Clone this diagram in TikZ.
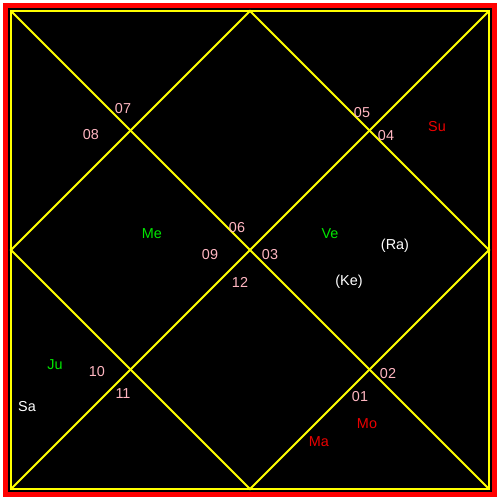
\documentclass[tikz,border=0pt]{standalone}
\usepackage{fontspec}
\setmainfont{Liberation Sans}
\usetikzlibrary{positioning}
\definecolor{framecol}{RGB}{255,0,0}
\definecolor{chartcol}{RGB}{255,255,0}
\definecolor{housecol}{RGB}{255,182,193}
\definecolor{greencol}{RGB}{0,230,0}
\definecolor{redcol}{RGB}{235,0,0}
\tikzset{
  chart/.style={draw=chartcol, line width=1.1pt},
  hnum/.style={text=housecol, font=\fontsize{8.2pt}{9.5pt}\selectfont, inner sep=0pt},
  plG/.style={text=greencol, font=\fontsize{8.2pt}{9.5pt}\selectfont, inner sep=0pt},
  plR/.style={plG, text=redcol},
  plW/.style={plG, text=white},
}
\begin{document}
\begin{tikzpicture}[x=0.02cm, y=-0.02cm]
  \useasboundingbox (0,0) rectangle (500,500);
  % Frame
  \fill[white] (0,0) rectangle (500,500);
  \fill[framecol] (3,3) rectangle (497,497);
  \fill[black] (8,8) rectangle (492,492);

  % Square corners and side midpoints
  \coordinate (tl) at (11,11);
  \coordinate (tr) at (489,11);
  \coordinate (br) at (489,489);
  \coordinate (bl) at (11,489);
  \coordinate (tm) at (250,11);
  \coordinate (rm) at (489,250);
  \coordinate (bm) at (250,489);
  \coordinate (lm) at (11,250);

  % Chart lines
  \draw[chart] (tl) rectangle (br);
  \draw[chart] (tl) -- (br);
  \draw[chart] (tr) -- (bl);
  \draw[chart] (tm) -- (rm) -- (bm) -- (lm) -- cycle;

  % House numbers
  \node[hnum] (h07) at (123,109) {07};
  \node[hnum] (h08) at (91,135) {08};
  \node[hnum] (h05) at (362,113) {05};
  \node[hnum] (h04) at (386,136) {04};
  \node[hnum] (h06) at (237,228) {06};
  \node[hnum] (h09) at (210,255) {09};
  \node[hnum] (h03) at (270,255) {03};
  \node[hnum] (h12) at (240,282) {12};
  \node[hnum] (h10) at (97,372) {10};
  \node[hnum] (h11) at (123,394) {11};
  \node[hnum] (h02) at (388,374) {02};
  \node[hnum] (h01) at (360,397) {01};

  % Planets
  \node[plR] (su) at (437,127) {Su};
  \node[plG] (me) at (152,234) {Me};
  \node[plG] (ve) at (330,234) {Ve};
  \node[plW] (ra) at (395,246) {(Ra)};
  \node[plW] (ke) at (349,282) {(Ke)};
  \node[plG] (ju) at (55,365) {Ju};
  \node[plW] (sa) at (27,407) {Sa};
  \node[plR] (mo) at (367,424) {Mo};
  \node[plR] (ma) at (319,442) {Ma};
\end{tikzpicture}
\end{document}
